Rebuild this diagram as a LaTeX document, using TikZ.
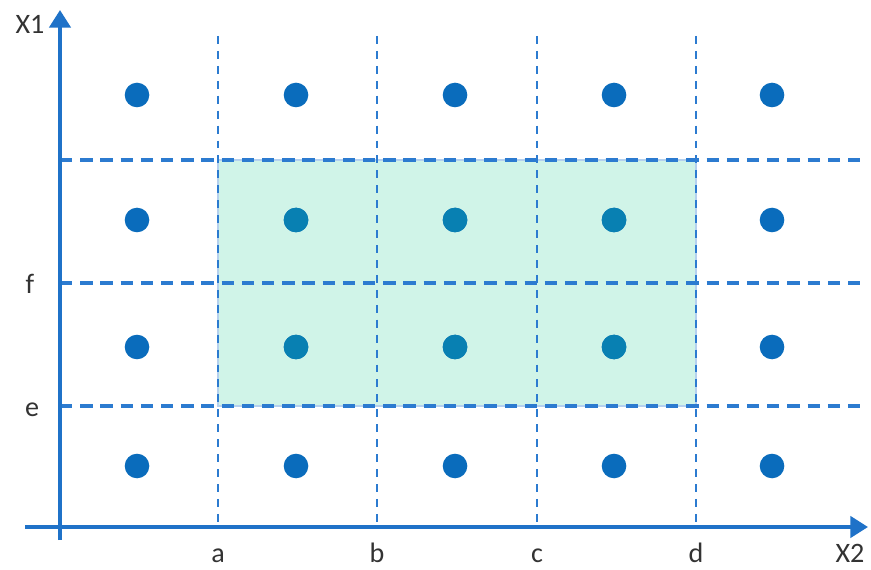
\documentclass[tikz,border=0pt]{standalone}
\usepackage{fontspec}
\setmainfont{Carlito}
\usetikzlibrary{arrows.meta}
\definecolor{caxis}{HTML}{1F72C8}
\definecolor{cdot}{HTML}{0A6CBC}
\definecolor{cdotin}{HTML}{0880B2}
\definecolor{cgrid}{HTML}{2C7BD0}
\definecolor{cfill}{HTML}{D0F4E8}
\tikzset{
  axis/.style={caxis, line width=2.2pt, -{Triangle[length=10pt, width=12pt]}},
  hgrid/.style={cgrid, line width=2pt, dash pattern=on 7pt off 4.5pt},
  vgrid/.style={cgrid, line width=0.9pt, dash pattern=on 4.5pt off 4pt},
  pt/.style={circle, fill=cdot, inner sep=0pt, minimum size=14pt},
  lbl/.style={font=\fontsize{16}{18}\selectfont, text=black!80, inner sep=0pt},
}
\begin{document}
\begin{tikzpicture}[x=0.02cm, y=-0.02cm]
  \useasboundingbox (0,0) rectangle (871,570);
  % selected region
  \fill[cfill] (218,160) rectangle (696,406);
  \draw[cgrid!35, line width=0.8pt] (218,160) rectangle (696,406);
  % grid lines
  \foreach \x in {218,377,537,696}
    \draw[vgrid] (\x,36) -- (\x,527);
  \foreach \y in {160,283,406}
    \draw[hgrid] (60,\y) -- (862,\y);
  % sample points
  \foreach \x [count=\i] in {137,296,455,614,772}
    \foreach \y [count=\j] in {95,220,347,466}
      \node[pt] (p\i\j) at (\x,\y) {};
  \foreach \i in {2,3,4}
    \foreach \j in {2,3}
      \node[pt, fill=cdotin] at (p\i\j) {};
  % axes
  \coordinate (xs) at (25,527);
  \coordinate (xe) at (868,527);
  \coordinate (ys) at (60,540);
  \coordinate (ye) at (60,10);
  \draw[axis] (xs) -- (xe);
  \draw[axis] (ys) -- (ye);
  % labels
  \node[lbl] (lx1) at (30,24) {X1};
  \node[lbl] (lx2) at (850,553) {X2};
  \node[lbl] (lf) at (30,284) {f};
  \node[lbl] (le) at (32,410) {e};
  \foreach \x/\t in {218/a,377/b,537/c,696/d}
    \node[lbl, anchor=base] (l\t) at (\x,562) {\t};
\end{tikzpicture}
\end{document}
